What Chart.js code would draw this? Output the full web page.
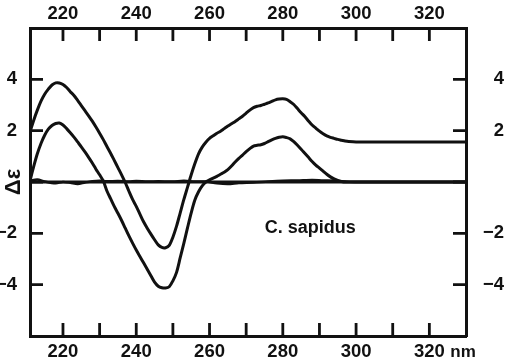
<!DOCTYPE html>
<html>
<head>
<meta charset="utf-8">
<script src="https://cdn.jsdelivr.net/npm/chart.js@4/dist/chart.umd.min.js"></script>
<style>
  html, body { margin: 0; padding: 0; background: #fff; }
  canvas { display: block; }
</style>
</head>
<body>
<canvas id="c" width="510" height="362"></canvas>
<script>
// ---- Data ----
const wavelengthsA = [211,212,213,214,215,216,217,218,219,220,221,222,223,224,225,226,227,228,229,230,
  231,232,233,234,235,236,237,238,239,240,241,242,243,244,245,246,247,248,249,250,
  251,252,253,254,255,256,257,258,259,260,261,262,263,264,265,266,267,268,269,270,
  271,272,273,274,275,276,277,278,279,280,281,282,283,284,285,286,287,288,289,290,
  291,292,293,294,295,296,297,298,300,305,310,320,330];
const deltaEpsA = [1.95,2.4,2.8,3.15,3.42,3.62,3.78,3.86,3.86,3.8,3.68,3.52,3.37,3.18,2.98,2.78,2.58,2.37,2.14,1.9,
  1.65,1.38,1.12,0.84,0.56,0.28,-0.02,-0.36,-0.68,-0.95,-1.25,-1.55,-1.8,-2.03,-2.25,-2.45,-2.55,-2.56,-2.47,-2.15,
  -1.72,-1.2,-0.68,-0.2,0.28,0.72,1.1,1.36,1.55,1.7,1.8,1.9,1.98,2.08,2.18,2.27,2.36,2.46,2.56,2.68,
  2.8,2.9,2.95,2.98,3.03,3.08,3.14,3.2,3.23,3.24,3.22,3.13,3.02,2.86,2.7,2.55,2.38,2.22,2.1,1.98,
  1.88,1.8,1.74,1.7,1.66,1.63,1.6,1.58,1.56,1.56,1.56,1.56,1.56];

const wavelengthsB = [211,212,213,214,215,216,217,218,219,220,221,222,223,224,225,226,227,228,229,230,
  231,232,233,234,235,236,237,238,239,240,241,242,243,244,245,246,247,248,249,250,
  251,252,253,254,255,256,257,258,259,260,261,262,263,264,265,266,267,268,269,270,
  271,272,273,274,275,276,277,278,279,280,281,282,283,284,285,286,287,288,289,290,
  291,292,293,294,295,296,297,330];
const deltaEpsB = [0.05,0.6,1.1,1.5,1.82,2.06,2.2,2.28,2.3,2.22,2.08,1.92,1.75,1.56,1.37,1.17,0.96,0.74,0.5,0.28,
  0.04,-0.35,-0.65,-0.95,-1.22,-1.5,-1.8,-2.1,-2.38,-2.65,-2.9,-3.15,-3.4,-3.65,-3.9,-4.06,-4.12,-4.13,-4.08,-3.85,
  -3.52,-2.95,-2.38,-1.78,-1.2,-0.7,-0.38,-0.15,0.0,0.08,0.15,0.22,0.3,0.38,0.48,0.62,0.78,0.92,1.05,1.18,
  1.3,1.4,1.43,1.45,1.5,1.57,1.64,1.7,1.74,1.76,1.73,1.68,1.57,1.43,1.28,1.12,0.96,0.8,0.66,0.54,
  0.42,0.3,0.2,0.12,0.06,0.02,0.0,0.0];

const baselineWl = [211,213,215,218,220,222,224,226,228,230,232,235,238,240,243,246,250,253,256,259,
  262,265,268,272,276,280,284,288,291,294,297,300,330];
const baselineVals = [0.05,0.1,0.02,-0.05,0.0,-0.03,-0.08,-0.02,0.03,0.05,0.03,0.04,0.02,0.04,0.02,0.03,0.02,0.05,0.02,0.02,
  -0.05,-0.08,-0.04,-0.02,0.02,0.05,0.06,0.08,0.06,0.05,0.02,0.0,0.0];

const zeroLineWl = [211, 330];
const zeroLineVals = [0, 0];

const xMinorTicks = [220,230,240,250,260,270,280,290,300,310,320];
const xTickLabels = [220,240,260,280,300,320];
const yTickLabels = [-4,-2,2,4];
const yMarkTicks = [-4,-2,0,2,4];
const yTitleText = 'Δε';
const unitText = 'nm';
const specimenText = 'C. sapidus';

// ---- helpers ----
const pts = (xs, ys) => xs.map((x, i) => ({ x: x, y: ys[i] }));
const INK = '#111';
const FONT = "'Liberation Sans', Arial, sans-serif";
const tickFont = { family: FONT, size: 18.5, weight: 'bold' };
const fmtY = v => (v < 0 ? '\u2212' + Math.abs(v) : String(v));

const innerTicks = {
  id: 'innerTicks',
  afterDraw(chart) {
    const { ctx, chartArea: a } = chart;
    const xs = chart.scales.x, ys = chart.scales.y;
    const L = 13;
    ctx.save();
    ctx.strokeStyle = INK;
    ctx.lineWidth = 2.8;
    ctx.lineCap = 'butt';
    ctx.beginPath();
    xMinorTicks.forEach(v => {
      const px = xs.getPixelForValue(v);
      ctx.moveTo(px, a.bottom); ctx.lineTo(px, a.bottom - L);
      ctx.moveTo(px, a.top); ctx.lineTo(px, a.top + L);
    });
    yMarkTicks.forEach(v => {
      const py = ys.getPixelForValue(v);
      ctx.moveTo(a.left, py); ctx.lineTo(a.left + L, py);
      ctx.moveTo(a.right, py); ctx.lineTo(a.right - L, py);
    });
    ctx.stroke();

    // unit after the last bottom label
    ctx.fillStyle = INK;
    ctx.font = "bold 17px " + FONT;
    ctx.textAlign = 'left';
    ctx.textBaseline = 'alphabetic';
    ctx.fillText(unitText, xs.getPixelForValue(320) + 21, 357);

    // specimen label
    ctx.font = "bold 18px " + FONT;
    ctx.textAlign = 'center';
    ctx.textBaseline = 'middle';
    ctx.fillText(specimenText, xs.getPixelForValue(287.5), ys.getPixelForValue(-1.8));
    ctx.restore();
  }
};

const xCommon = (pos, pad, h) => ({
  type: 'linear', position: pos, min: 211, max: 330,
  afterBuildTicks: s => { s.ticks = xTickLabels.map(v => ({ value: v })); },
  afterFit: s => { s.height = h; },
  grid: { display: false, drawTicks: false },
  border: { display: true, color: INK, width: 3 },
  ticks: { font: tickFont, color: INK, padding: pad, maxRotation: 0, autoSkip: false, callback: v => String(v) }
});

const yCommon = (pos, pad, w, align) => ({
  type: 'linear', position: pos, min: -6, max: 6,
  afterBuildTicks: s => { s.ticks = yTickLabels.map(v => ({ value: v })); },
  afterFit: s => { s.width = w; },
  grid: { display: false, drawTicks: false },
  border: { display: true, color: INK, width: 3 },
  ticks: { font: tickFont, color: INK, padding: pad, crossAlign: align, autoSkip: false, callback: v => fmtY(v) }
});

const yLeft = yCommon('left', 13, 30, 'near');
yLeft.title = { display: true, text: yTitleText, color: INK, font: { family: FONT, size: 22, weight: 'bold' }, padding: { top: 1, bottom: 0 } };

new Chart(document.getElementById('c'), {
  type: 'line',
  data: {
    datasets: [
      { data: pts(zeroLineWl, zeroLineVals), borderColor: INK, borderWidth: 3, pointRadius: 0, tension: 0 },
      { data: pts(baselineWl, baselineVals), borderColor: INK, borderWidth: 2.4, pointRadius: 0, tension: 0.3 },
      { data: pts(wavelengthsA, deltaEpsA), borderColor: INK, borderWidth: 3, pointRadius: 0, tension: 0.3 },
      { data: pts(wavelengthsB, deltaEpsB), borderColor: INK, borderWidth: 3, pointRadius: 0, tension: 0.3 }
    ]
  },
  options: {
    responsive: false,
    animation: false,
    devicePixelRatio: 1,
    layout: { padding: { left: 0, right: 6, top: 0, bottom: 0 } },
    plugins: { legend: { display: false }, tooltip: { enabled: false } },
    scales: {
      x: xCommon('bottom', 4.5, 26),
      x2: xCommon('top', 3, 28),
      y: yLeft,
      y2: yCommon('right', 10, 38, 'far')
    }
  },
  plugins: [innerTicks]
});
</script>
</body>
</html>
